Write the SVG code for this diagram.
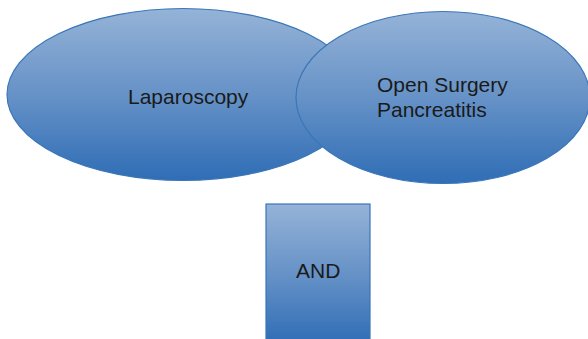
<svg xmlns="http://www.w3.org/2000/svg" width="588" height="339" viewBox="0 0 588 339">
<defs>
<linearGradient id="g" x1="0" y1="0" x2="0" y2="1">
<stop offset="0" stop-color="#95b3d7"/>
<stop offset="0.5" stop-color="#6692c7"/>
<stop offset="1" stop-color="#2f6db5"/>
</linearGradient>
<style>
.shape{fill:url(#g);stroke:#3a76b8;stroke-width:1.2}
.t{font-family:"Liberation Sans",Arial,sans-serif;font-size:21px;fill:#1a1a1a}
</style>
</defs>
<g id="laparoscopy">
<ellipse class="shape" cx="183" cy="94.5" rx="176" ry="86"/>
<text class="t" x="128" y="104">Laparoscopy</text>
</g>
<g id="open-surgery">
<ellipse class="shape" cx="443" cy="97.5" rx="147" ry="86"/>
<text class="t" x="377" y="92">Open Surgery</text>
<text class="t" x="377" y="117">Pancreatitis</text>
</g>
<g id="and">
<rect class="shape" x="266" y="204" width="104" height="140"/>
<text class="t" x="296" y="278">AND</text>
</g>
<g id="connectors"></g>
</svg>
